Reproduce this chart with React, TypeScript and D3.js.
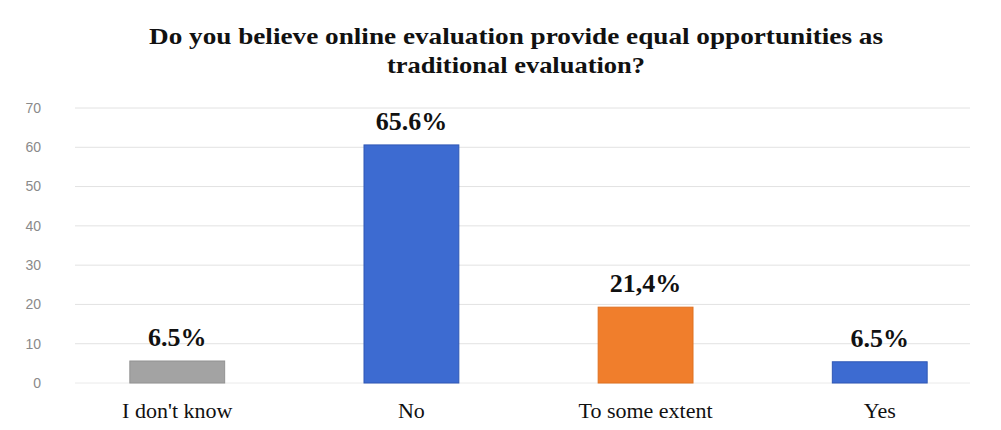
import * as d3 from 'd3';

const title = [
  'Do you believe online evaluation provide  equal opportunities  as',
  'traditional  evaluation?',
];
const categories = ["I don't know", 'No', 'To some extent', 'Yes'];
// bar heights as read against the y axis
const barValues = [5.6, 60.6, 19.3, 5.4];
// value labels printed above the bars
const valueLabels = ['6.5%', '65.6%', '21,4%', '6.5%'];
const barColors = ['#a3a3a3', '#3d6bd1', '#f07e2c', '#3d6bd1'];
const barStrokes = ['#929292', '#2f57b5', '#e0701f', '#2f57b5'];
const yTicks = [0, 10, 20, 30, 40, 50, 60, 70];

const width = 1001;
const height = 430;

function App() {
  const x = d3
    .scaleBand<string>()
    .domain(categories)
    .range([83, 974])
    .paddingInner(0.595)
    .paddingOuter(0.2);

  const y = d3.scaleLinear().domain([0, 70]).range([383, 108]);

  return (
    <svg
      width={width}
      height={height}
      style={{ position: 'absolute', left: 0, top: 0, background: '#fff' }}
    >
      <g fontFamily="'Liberation Serif', 'Times New Roman', serif" fontWeight="bold" fill="#111" textAnchor="middle">
        <text x={516} y={44} fontSize={24} textLength={734} lengthAdjust="spacingAndGlyphs">
          {title[0]}
        </text>
        <text x={516} y={73} fontSize={24} textLength={258} lengthAdjust="spacingAndGlyphs">
          {title[1]}
        </text>
      </g>

      {/* grid */}
      <g>
        {yTicks.map((t) => (
          <line
            key={t}
            x1={75}
            x2={970}
            y1={y(t)}
            y2={y(t)}
            stroke={t === 0 ? '#eaeaea' : '#e2e2e2'}
            strokeWidth={1}
          />
        ))}
      </g>

      {/* y axis labels */}
      <g fontFamily="'Liberation Sans', Arial, sans-serif" fontSize={14} fill="#8a8a8a" textAnchor="end">
        {yTicks.map((t) => (
          <text key={t} x={41} y={y(t)} dy="0.35em">
            {t}
          </text>
        ))}
      </g>

      {/* bars */}
      <g>
        {categories.map((c, i) => (
          <rect
            key={c}
            x={x(c)}
            y={y(barValues[i])}
            width={x.bandwidth()}
            height={y(0) - y(barValues[i])}
            fill={barColors[i]}
            stroke={barStrokes[i]}
            strokeWidth={1}
          />
        ))}
      </g>

      {/* value labels */}
      <g fontFamily="'Liberation Serif', 'Times New Roman', serif" fontWeight="bold" fontSize={26} fill="#111" textAnchor="middle">
        {categories.map((c, i) => (
          <text key={c} x={(x(c) ?? 0) + x.bandwidth() / 2} y={y(barValues[i]) - 15}>
            {valueLabels[i]}
          </text>
        ))}
      </g>

      {/* category labels */}
      <g fontFamily="'Liberation Serif', 'Times New Roman', serif" fontSize={22} fill="#111" textAnchor="middle">
        {categories.map((c) => (
          <text key={c} x={(x(c) ?? 0) + x.bandwidth() / 2} y={418}>
            {c}
          </text>
        ))}
      </g>
    </svg>
  );
}

export default App;
